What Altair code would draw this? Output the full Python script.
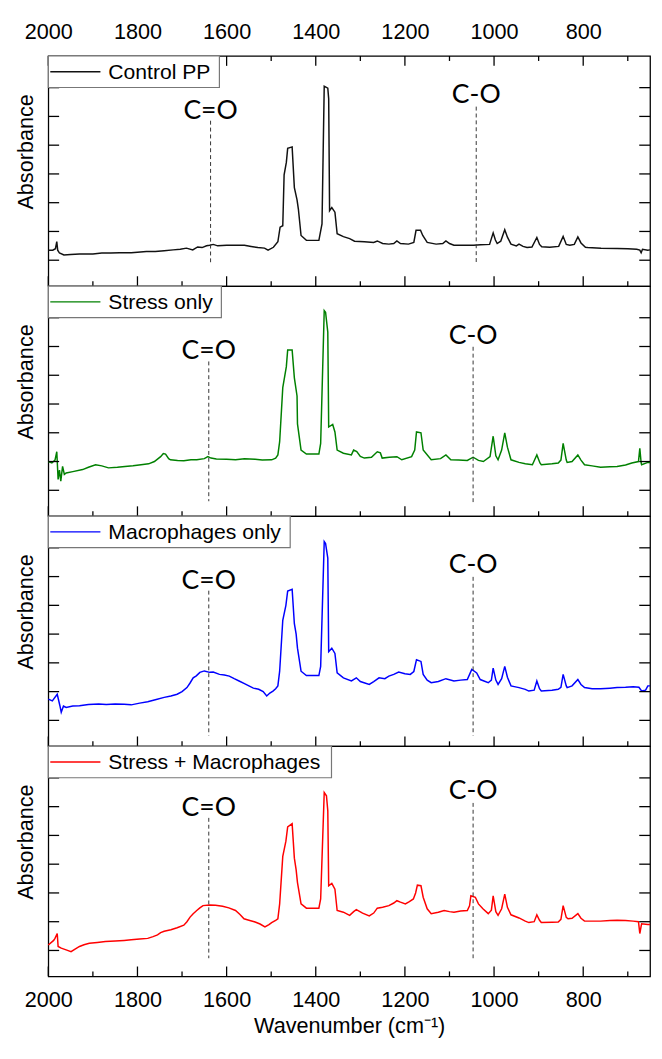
import altair as alt
import pandas as pd

# ---------------- data (wavenumber cm^-1, absorbance in arbitrary offset units) ----------------
SERIES_NAMES = ["Control PP", "Stress only", "Macrophages only", "Stress + Macrophages"]
SERIES_COLORS = ["#111111", "#008000", "#0000ff", "#ff0000"]

CONTROL_PP = [
    (2000, 0.35), (1990, 0.35), (1984, 0.40), (1981, 0.65), (1979, 0.35), (1975, 0.25), (1965, 0.18),
    (1950, 0.20), (1930, 0.22), (1900, 0.22), (1880, 0.25), (1860, 0.25), (1840, 0.26), (1814, 0.26),
    (1800, 0.28), (1780, 0.30), (1760, 0.30), (1740, 0.33), (1720, 0.36), (1704, 0.38), (1690, 0.42),
    (1676, 0.36), (1665, 0.46), (1655, 0.44), (1645, 0.50), (1638, 0.52), (1630, 0.55), (1620, 0.50),
    (1600, 0.52), (1580, 0.52), (1560, 0.52), (1545, 0.48), (1530, 0.44), (1515, 0.42), (1507, 0.35),
    (1495, 0.45), (1485, 0.64), (1480, 1.15), (1474, 1.20), (1471, 2.97), (1466, 3.40), (1463, 3.89),
    (1453, 3.94), (1448, 2.52), (1442, 2.10), (1439, 1.78), (1433, 0.86), (1421, 0.69), (1393, 0.69),
    (1386, 1.26), (1381, 6.05), (1373, 5.98), (1371, 5.61), (1369, 1.72), (1364, 1.83), (1357, 1.67),
    (1352, 0.92), (1338, 0.82), (1324, 0.75), (1313, 0.66), (1291, 0.64), (1270, 0.62), (1262, 0.67),
    (1250, 0.58), (1236, 0.56), (1225, 0.58), (1218, 0.67), (1210, 0.58), (1192, 0.56), (1180, 0.62),
    (1175, 1.04), (1165, 1.04), (1160, 0.86), (1150, 0.62), (1130, 0.56), (1115, 0.58), (1108, 0.67),
    (1100, 0.58), (1090, 0.52), (1060, 0.52), (1046, 0.52), (1030, 0.54), (1010, 0.55), (1002, 0.95),
    (997, 0.70), (993, 0.58), (985, 0.66), (976, 1.06), (970, 0.80), (962, 0.56), (950, 0.50),
    (944, 0.56), (935, 0.48), (926, 0.44), (915, 0.46), (904, 0.79), (898, 0.55), (893, 0.47),
    (875, 0.45), (855, 0.48), (845, 0.83), (838, 0.55), (830, 0.52), (820, 0.55), (812, 0.81),
    (805, 0.60), (795, 0.45), (790, 0.44), (760, 0.42), (724, 0.41), (700, 0.40), (680, 0.38),
    (673, 0.35), (670, 0.26), (667, 0.38), (655, 0.35), (650, 0.36),
]

STRESS_ONLY = [
    (2000, 1.00), (1992, 0.95), (1985, 1.05), (1981, 1.34), (1978, 0.38), (1975, 0.70), (1972, 0.32),
    (1968, 0.83), (1964, 0.55), (1960, 0.60), (1945, 0.65), (1923, 0.72), (1910, 0.80), (1894, 0.89),
    (1880, 0.85), (1865, 0.78), (1845, 0.80), (1828, 0.83), (1810, 0.85), (1792, 0.89), (1775, 0.92),
    (1762, 1.00), (1748, 1.17), (1742, 1.28), (1737, 1.26), (1730, 1.10), (1726, 1.06), (1710, 1.04),
    (1696, 1.03), (1680, 1.06), (1667, 1.06), (1650, 1.10), (1642, 1.17), (1635, 1.12), (1623, 1.09),
    (1600, 1.08), (1580, 1.06), (1560, 1.10), (1536, 1.08), (1520, 1.05), (1499, 1.06), (1490, 1.12),
    (1485, 1.23), (1481, 1.69), (1474, 3.57), (1466, 4.30), (1463, 4.88), (1453, 4.88), (1448, 3.91),
    (1442, 3.28), (1441, 2.31), (1433, 1.40), (1421, 1.26), (1393, 1.26), (1389, 1.63), (1381, 6.25),
    (1378, 6.19), (1373, 5.50), (1371, 2.20), (1362, 2.29), (1357, 2.03), (1352, 1.40), (1338, 1.29),
    (1320, 1.23), (1315, 1.40), (1308, 1.35), (1300, 1.18), (1291, 1.12), (1275, 1.15), (1262, 1.34),
    (1255, 1.30), (1251, 1.12), (1235, 1.15), (1218, 1.17), (1207, 1.06), (1185, 1.17), (1178, 1.40),
    (1174, 2.03), (1164, 2.00), (1159, 1.40), (1141, 1.06), (1120, 1.10), (1108, 1.23), (1097, 1.06),
    (1080, 1.05), (1060, 1.04), (1047, 1.15), (1035, 1.04), (1024, 1.00), (1009, 1.17), (1002, 1.88),
    (996, 1.20), (991, 1.06), (983, 1.40), (976, 2.00), (970, 1.50), (962, 1.06), (944, 0.97),
    (930, 0.92), (914, 0.89), (904, 1.23), (897, 0.95), (894, 0.89), (870, 0.92), (856, 0.95),
    (850, 1.05), (845, 1.63), (838, 1.05), (836, 0.97), (825, 1.00), (812, 1.23), (805, 1.05),
    (797, 0.89), (780, 0.85), (761, 0.80), (740, 0.82), (724, 0.83), (705, 0.88), (691, 0.95),
    (676, 1.00), (673, 1.46), (670, 0.95), (669, 0.89), (655, 0.97), (650, 0.97),
]

MACROPHAGES_ONLY = [
    (2000, 0.74), (1991, 0.68), (1980, 0.91), (1974, 0.51), (1971, 0.28), (1966, 0.50), (1960, 0.45),
    (1945, 0.50), (1930, 0.51), (1910, 0.55), (1887, 0.57), (1870, 0.55), (1850, 0.57), (1830, 0.56),
    (1814, 0.54), (1795, 0.60), (1777, 0.65), (1760, 0.72), (1740, 0.80), (1725, 0.85), (1711, 0.91),
    (1700, 1.00), (1689, 1.14), (1682, 1.30), (1675, 1.48), (1668, 1.55), (1660, 1.67), (1650, 1.72),
    (1638, 1.67), (1630, 1.68), (1616, 1.60), (1605, 1.58), (1594, 1.54), (1583, 1.45), (1572, 1.37),
    (1560, 1.28), (1550, 1.20), (1540, 1.12), (1528, 1.08), (1518, 1.00), (1510, 0.85), (1503, 0.95),
    (1496, 1.02), (1490, 1.10), (1485, 1.20), (1481, 1.71), (1474, 3.48), (1467, 4.00), (1463, 4.50),
    (1453, 4.56), (1448, 3.36), (1444, 3.00), (1441, 2.51), (1433, 1.71), (1421, 1.56), (1393, 1.56),
    (1389, 1.88), (1381, 6.22), (1378, 6.15), (1373, 5.64), (1371, 2.39), (1364, 2.51), (1357, 2.33),
    (1352, 1.65), (1338, 1.48), (1320, 1.37), (1309, 1.48), (1300, 1.35), (1280, 1.25), (1270, 1.35),
    (1258, 1.48), (1245, 1.45), (1236, 1.54), (1225, 1.60), (1214, 1.68), (1200, 1.62), (1188, 1.60),
    (1180, 1.70), (1174, 2.11), (1164, 2.05), (1159, 1.60), (1150, 1.40), (1141, 1.31), (1125, 1.35),
    (1108, 1.45), (1090, 1.37), (1075, 1.40), (1060, 1.42), (1050, 1.77), (1039, 1.65), (1031, 1.42),
    (1013, 1.31), (1006, 1.40), (1002, 1.82), (996, 1.40), (991, 1.25), (983, 1.45), (976, 1.88),
    (970, 1.50), (962, 1.20), (944, 1.14), (930, 1.08), (922, 1.02), (910, 1.05), (904, 1.37),
    (898, 1.10), (894, 1.02), (870, 1.05), (856, 1.08), (850, 1.15), (845, 1.60), (838, 1.20),
    (836, 1.14), (825, 1.20), (812, 1.42), (805, 1.25), (797, 1.14), (780, 1.10), (761, 1.10),
    (740, 1.12), (724, 1.14), (705, 1.15), (688, 1.17), (675, 1.15), (669, 1.02), (660, 1.05),
    (655, 1.20), (650, 1.20),
]

STRESS_MACROPHAGES = [
    (2000, 0.19), (1988, 0.35), (1985, 0.42), (1980, 0.59), (1978, 0.14), (1971, 0.08), (1960, 0.02),
    (1949, -0.04), (1940, 0.05), (1930, 0.14), (1920, 0.20), (1908, 0.25), (1890, 0.28), (1872, 0.31),
    (1850, 0.33), (1830, 0.35), (1814, 0.37), (1795, 0.40), (1777, 0.42), (1765, 0.48), (1755, 0.54),
    (1748, 0.62), (1740, 0.67), (1725, 0.72), (1711, 0.79), (1696, 0.88), (1689, 1.00), (1682, 1.16),
    (1675, 1.28), (1667, 1.39), (1660, 1.48), (1653, 1.56), (1638, 1.58), (1625, 1.57), (1609, 1.54),
    (1595, 1.48), (1580, 1.39), (1570, 1.25), (1561, 1.10), (1550, 1.05), (1536, 0.99), (1525, 0.92),
    (1514, 0.82), (1505, 0.90), (1499, 0.97), (1490, 1.05), (1485, 1.10), (1481, 1.62), (1474, 3.27),
    (1467, 3.80), (1463, 4.30), (1453, 4.41), (1448, 3.21), (1444, 2.80), (1441, 2.36), (1433, 1.62),
    (1421, 1.47), (1393, 1.47), (1389, 1.79), (1381, 5.49), (1376, 5.38), (1373, 4.86), (1371, 2.25),
    (1364, 2.33), (1357, 2.13), (1352, 1.39), (1338, 1.33), (1324, 1.22), (1315, 1.35), (1309, 1.42),
    (1295, 1.30), (1280, 1.20), (1270, 1.30), (1262, 1.47), (1250, 1.50), (1236, 1.56), (1225, 1.65),
    (1218, 1.73), (1210, 1.68), (1199, 1.62), (1190, 1.70), (1181, 1.79), (1176, 2.00), (1172, 2.27),
    (1164, 2.25), (1159, 1.85), (1150, 1.45), (1141, 1.28), (1125, 1.33), (1112, 1.39), (1100, 1.35),
    (1090, 1.33), (1075, 1.37), (1060, 1.39), (1055, 1.55), (1052, 1.90), (1042, 1.85), (1035, 1.62),
    (1025, 1.45), (1013, 1.28), (1006, 1.40), (1002, 1.90), (996, 1.35), (991, 1.22), (983, 1.45),
    (976, 1.96), (970, 1.50), (962, 1.24), (944, 1.13), (930, 1.02), (922, 0.97), (910, 1.00),
    (904, 1.24), (898, 1.05), (894, 0.97), (870, 0.98), (856, 0.99), (850, 1.08), (845, 1.56),
    (838, 1.15), (834, 1.10), (825, 1.12), (812, 1.28), (805, 1.12), (797, 1.02), (780, 1.02),
    (761, 1.02), (740, 1.04), (724, 1.05), (705, 1.04), (688, 1.02), (676, 1.00), (673, 0.59),
    (670, 0.85), (669, 0.93), (655, 0.90), (650, 0.90),
]

SPECTRA = [CONTROL_PP, STRESS_ONLY, MACROPHAGES_ONLY, STRESS_MACROPHAGES]

# annotation markers per panel: (wavenumber, label baseline, dash top, dash bottom)
CO_DOUBLE = [(1636, 4.92, 4.85, -0.07), (1640, 4.58, 4.48, -0.38), (1640, 4.56, 4.51, -0.53), (1640, 4.69, 4.61, -0.27)]
CO_SINGLE = [(1040, 5.45, 5.34, -0.10), (1047, 5.07, 4.99, -0.41), (1047, 5.13, 4.99, -0.53), (1047, 5.26, 5.13, -0.27)]

X_MAJOR = [2000, 1800, 1600, 1400, 1200, 1000, 800]
X_MINOR = [1900, 1700, 1500, 1300, 1100, 900, 700]
Y_TICKS = [0, 1, 2, 3, 4, 5, 6]

# ---------------- layout / style ----------------
W, H = 612, 234
XDOM = [2000, 650]
YDOM = [-0.9, 7.1]
LEGEND_BOX_W = [174, 176, 246, 288]
LABEL_FONT = "Liberation Sans"
ANNOT_FONT = "Lato"


def make_panel(i):
    xsc = alt.Scale(domain=XDOM, nice=False, zero=False)
    ysc = alt.Scale(domain=YDOM, nice=False, zero=False)

    if i == 0:
        xaxis = alt.Axis(orient="top", values=X_MAJOR, format="d", ticks=False, domain=False, grid=False,
                         labelFontSize=22, labelPadding=13, labelFlush=False, title=None,
                         labelFont=LABEL_FONT, labelColor="black")
    elif i == 3:
        xaxis = alt.Axis(orient="bottom", values=X_MAJOR, format="d", ticks=False, domain=False, grid=False,
                         labelFontSize=22, labelPadding=14, labelFlush=False,
                         title="Wavenumber (cm\u207b\u00b9)",
                         titleFontSize=22, titleFontWeight="normal", titlePadding=5, titleFont=LABEL_FONT,
                         labelFont=LABEL_FONT, labelColor="black", titleColor="black")
    else:
        xaxis = None

    yaxis = alt.Axis(title="Absorbance", labels=False, ticks=False, domain=False, grid=False,
                     titleFontSize=22, titleFontWeight="normal", titleFont=LABEL_FONT, titleColor="black",
                     titleX=-16, titleY=97, titleBaseline="alphabetic")

    def X(field):
        return alt.X(field, scale=xsc, axis=xaxis)

    def Y(field):
        return alt.Y(field, scale=ysc, axis=yaxis)

    df = pd.DataFrame(SPECTRA[i], columns=["wn", "ab"])
    line = alt.Chart(df).mark_line(color=SERIES_COLORS[i], strokeWidth=1.5).encode(
        x=X("wn:Q"), y=Y("ab:Q"), order="wn:Q",
    )

    ann = pd.DataFrame([
        {"label": "C=O", "wn": CO_DOUBLE[i][0], "ty": CO_DOUBLE[i][1], "y1": CO_DOUBLE[i][2], "y2": CO_DOUBLE[i][3]},
        {"label": "C-O", "wn": CO_SINGLE[i][0], "ty": CO_SINGLE[i][1], "y1": CO_SINGLE[i][2], "y2": CO_SINGLE[i][3]},
    ])
    dashes = alt.Chart(ann).mark_rule(color="#333333", strokeWidth=1, strokeDash=[4, 3]).encode(
        x=X("wn:Q"), y=Y("y1:Q"), y2="y2:Q",
    )
    ann_text = alt.Chart(ann).mark_text(font=ANNOT_FONT, fontSize=27, baseline="alphabetic",
                                        align="center", color="black").encode(
        x=X("wn:Q"), y=Y("ty:Q"), text="label:N",
    )

    # inward tick marks
    xmaj = pd.DataFrame({"wn": X_MAJOR})
    xmin = pd.DataFrame({"wn": X_MINOR})
    yt = pd.DataFrame({"ab": Y_TICKS})
    tk = dict(color="black", strokeWidth=1.3)
    layers = [line, dashes, ann_text]
    layers.append(alt.Chart(xmaj).mark_rule(**tk).encode(x=X("wn:Q"), y=alt.value(H), y2=alt.value(H - 10)))
    layers.append(alt.Chart(xmin).mark_rule(**tk).encode(x=X("wn:Q"), y=alt.value(H), y2=alt.value(H - 5)))
    if i == 0:
        layers.append(alt.Chart(xmaj).mark_rule(**tk).encode(x=X("wn:Q"), y=alt.value(0), y2=alt.value(10)))
        layers.append(alt.Chart(xmin).mark_rule(**tk).encode(x=X("wn:Q"), y=alt.value(0), y2=alt.value(5)))
    layers.append(alt.Chart(yt).mark_rule(**tk).encode(y=Y("ab:Q"), x=alt.value(0), x2=alt.value(11)))
    layers.append(alt.Chart(yt).mark_rule(**tk).encode(y=Y("ab:Q"), x=alt.value(W), x2=alt.value(W - 11)))

    # legend box
    leg = pd.DataFrame({"name": [SERIES_NAMES[i]]})
    layers.append(alt.Chart(leg).mark_rect(fill="white", stroke="#777777", strokeWidth=1.2).encode(
        x=alt.value(0), x2=alt.value(LEGEND_BOX_W[i]), y=alt.value(0), y2=alt.value(32)))
    layers.append(alt.Chart(leg).mark_rule(color=SERIES_COLORS[i], strokeWidth=1.3).encode(
        x=alt.value(2), x2=alt.value(53), y=alt.value(16)))
    layers.append(alt.Chart(leg).mark_text(font=LABEL_FONT, fontSize=21.5, align="left",
                                           baseline="alphabetic", color="black").encode(
        x=alt.value(61), y=alt.value(23.5), text="name:N"))

    return alt.layer(*layers).properties(width=W, height=H)


chart = alt.vconcat(*[make_panel(i) for i in range(4)], spacing=0, bounds="flush").resolve_scale(
    x="independent", y="independent"
).properties(
    padding={"left": 6, "top": 3, "right": 0, "bottom": 0},
    background="white",
).configure_view(
    stroke="black", strokeWidth=1.3
)

chart.save("out.html", embed_options={"renderer": "svg", "actions": False})
